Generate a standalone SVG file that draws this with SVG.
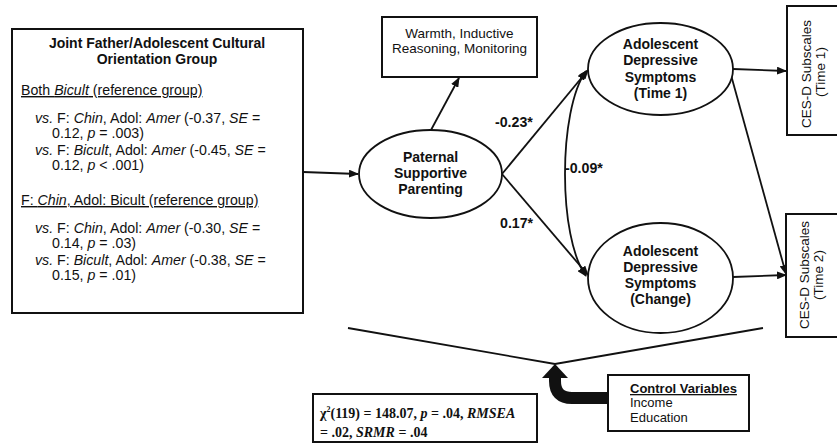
<svg xmlns="http://www.w3.org/2000/svg" width="837" height="443" viewBox="0 0 837 443">
<defs>
<style>
.box{fill:#fff;stroke:#111;stroke-width:2}
.ell{fill:#fff;stroke:#111;stroke-width:1.8}
.ln{fill:none;stroke:#111;stroke-width:1.8}
.t{font-family:"Liberation Sans",Arial,sans-serif;font-size:13px;fill:#111}
.l{font-size:14.2px}
.b{font-weight:bold}
.h{font-family:"Liberation Sans",Arial,sans-serif;font-size:14px;font-weight:bold;fill:#111;text-anchor:middle}
.i{font-style:italic}
.tm{font-family:"Liberation Serif","Times New Roman",serif;font-size:14px;font-weight:bold;fill:#111}
</style>
<marker id="ah" markerWidth="10" markerHeight="8" refX="9" refY="4" orient="auto" markerUnits="userSpaceOnUse">
<path d="M0,0 L10,4 L0,8 Z" fill="#111"/>
</marker>
<marker id="ahs" markerWidth="10" markerHeight="8" refX="9" refY="4" orient="auto-start-reverse" markerUnits="userSpaceOnUse">
<path d="M0,0 L10,4 L0,8 Z" fill="#111"/>
</marker>
</defs>
<rect width="837" height="443" fill="#fff"/>

<g id="connectors">
<line class="ln" x1="303" y1="172" x2="358" y2="174" marker-end="url(#ah)"/>
<line class="ln" x1="431" y1="130" x2="459" y2="78" marker-end="url(#ah)"/>
<line class="ln" x1="502" y1="174" x2="588" y2="70" marker-end="url(#ah)"/>
<line class="ln" x1="502" y1="174" x2="588" y2="275" marker-end="url(#ah)"/>
<path class="ln" d="M586,71 C558,110 558,238 586,276" marker-start="url(#ahs)" marker-end="url(#ah)"/>
<line class="ln" x1="733" y1="69" x2="786" y2="71" marker-end="url(#ah)"/>
<line class="ln" x1="731" y1="75" x2="786" y2="274" marker-end="url(#ah)"/>
<line class="ln" x1="733" y1="277" x2="786" y2="275" marker-end="url(#ah)"/>
<polyline class="ln" points="348,328 555,364 763,328"/>
<path d="M608,398 L572,398 Q555,398 555,381 L555,377" fill="none" stroke="#111" stroke-width="12"/>
<polygon points="542,378 568,378 555,364" fill="#111"/>
</g>

<g id="label-m023"><text class="t b l" x="495" y="127">-0.23*</text></g>
<g id="label-m009"><text class="t b l" x="565" y="173">-0.09*</text></g>
<g id="label-017"><text class="t b l" x="500" y="228">0.17*</text></g>

<g id="group-box">
<rect class="box" x="12" y="29" width="291" height="284"/>
<text class="h" x="157" y="48">Joint Father/Adolescent Cultural</text>
<text class="h" x="157" y="64">Orientation Group</text>
<text class="t l" x="21" y="95" text-decoration="underline">Both <tspan class="i">Bicult</tspan> (reference group)</text>
<text class="t l" x="35" y="123"><tspan class="i">vs.</tspan> F: <tspan class="i">Chin</tspan>, Adol: <tspan class="i">Amer</tspan> (-0.37, <tspan class="i">SE</tspan> =</text>
<text class="t l" x="52" y="138">0.12, <tspan class="i">p</tspan> = .003)</text>
<text class="t l" x="35" y="155"><tspan class="i">vs.</tspan> F: <tspan class="i">Bicult</tspan>, Adol: <tspan class="i">Amer</tspan> (-0.45, <tspan class="i">SE</tspan> =</text>
<text class="t l" x="52" y="170">0.12, <tspan class="i">p</tspan> &lt; .001)</text>
<text class="t l" x="21" y="205" text-decoration="underline">F: <tspan class="i">Chin</tspan>, Adol: Bicult (reference group)</text>
<text class="t l" x="35" y="233"><tspan class="i">vs.</tspan> F: <tspan class="i">Chin</tspan>, Adol: <tspan class="i">Amer</tspan> (-0.30, <tspan class="i">SE</tspan> =</text>
<text class="t l" x="52" y="248">0.14, <tspan class="i">p</tspan> = .03)</text>
<text class="t l" x="35" y="265"><tspan class="i">vs.</tspan> F: <tspan class="i">Bicult</tspan>, Adol: <tspan class="i">Amer</tspan> (-0.38, <tspan class="i">SE</tspan> =</text>
<text class="t l" x="52" y="280">0.15, <tspan class="i">p</tspan> = .01)</text>
</g>

<g id="warmth">
<rect class="box" x="382" y="17" width="155" height="60"/>
<text class="t" x="459.5" y="38" text-anchor="middle" style="font-size:13.5px">Warmth, Inductive</text>
<text class="t" x="459.5" y="53" text-anchor="middle" style="font-size:13.5px">Reasoning, Monitoring</text>
</g>

<g id="paternal">
<ellipse class="ell" cx="430.5" cy="174" rx="71.5" ry="44"/>
<text class="h" x="430.5" y="162">Paternal</text>
<text class="h" x="430.5" y="178">Supportive</text>
<text class="h" x="430.5" y="194">Parenting</text>
</g>

<g id="time1">
<ellipse class="ell" cx="660.5" cy="69" rx="72.5" ry="46"/>
<text class="h" x="660.5" y="49">Adolescent</text>
<text class="h" x="660.5" y="65">Depressive</text>
<text class="h" x="660.5" y="82">Symptoms</text>
<text class="h" x="660.5" y="98">(Time 1)</text>
</g>

<g id="change">
<ellipse class="ell" cx="660.5" cy="278" rx="72.5" ry="55"/>
<text class="h" x="660.5" y="256">Adolescent</text>
<text class="h" x="660.5" y="272">Depressive</text>
<text class="h" x="660.5" y="288">Symptoms</text>
<text class="h" x="660.5" y="304">(Change)</text>
</g>

<g id="cesd1">
<rect class="box" x="787" y="6" width="60" height="129"/>
<text class="t" transform="translate(811,74) rotate(-90)" text-anchor="middle" style="font-size:13.5px">CES-D Subscales</text>
<text class="t" transform="translate(825,72) rotate(-90)" text-anchor="middle" style="font-size:13.5px">(Time 1)</text>
</g>

<g id="cesd2">
<rect class="box" x="786" y="214" width="60" height="123"/>
<text class="t" transform="translate(809,275) rotate(-90)" text-anchor="middle" style="font-size:13.5px">CES-D Subscales</text>
<text class="t" transform="translate(823,275) rotate(-90)" text-anchor="middle" style="font-size:13.5px">(Time 2)</text>
</g>

<g id="control">
<rect class="box" x="608" y="375" width="141" height="56"/>
<text class="t b" x="630" y="393" text-decoration="underline">Control Variables</text>
<text class="t" x="630" y="407">Income</text>
<text class="t" x="630" y="422">Education</text>
</g>

<g id="fit">
<rect class="box" x="313" y="394" width="224" height="48"/>
<text class="tm" x="320" y="418">χ<tspan dy="-6" font-size="8">2</tspan><tspan dy="6">(119) = 148.07, </tspan><tspan class="i">p</tspan> = .04, <tspan class="i">RMSEA</tspan></text>
<text class="tm" x="320" y="437">= .02, <tspan class="i">SRMR</tspan> = .04</text>
</g>
</svg>
